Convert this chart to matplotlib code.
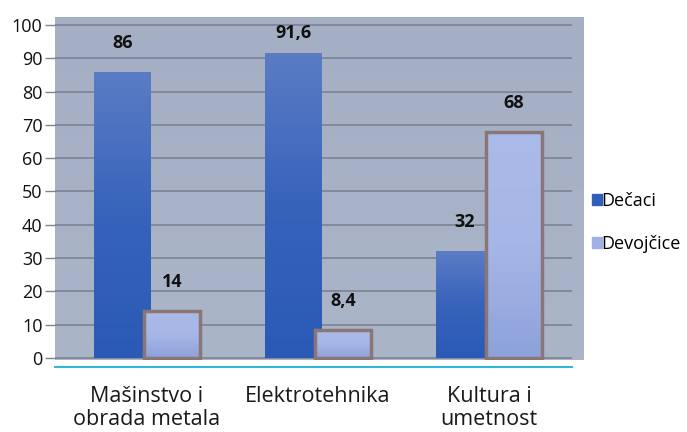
import matplotlib.pyplot as plt
import numpy as np
from matplotlib.colors import LinearSegmentedColormap
from matplotlib.patches import Rectangle
from matplotlib.lines import Line2D

categories = ['Mašinstvo i\nobrada metala', 'Elektrotehnika', 'Kultura i\numetnost']
series_names = ['Dečaci', 'Devojčice']
decaci = [86, 91.6, 32]
devojcice = [14, 8.4, 68]
value_labels = [['86', '91,6', '32'], ['14', '8,4', '68']]
yticks = [0, 10, 20, 30, 40, 50, 60, 70, 80, 90, 100]

plt.rcParams['font.family'] = ['Open Sans', 'DejaVu Sans']

fig = plt.figure(figsize=(6.87, 4.32), dpi=100)
ax = fig.add_axes([0.0801, 0.1667, 0.7686, 0.794])
ax.set_xlim(-0.538, 2.55)
ax.set_ylim(-0.6, 102.4)

# panel background gradient
bg = LinearSegmentedColormap.from_list('bg', ['#aab5c8', '#a4afc4'])
ax.imshow(np.linspace(0, 1, 100).reshape(-1, 1), cmap=bg, aspect='auto',
          extent=[-0.538, 2.55, -0.6, 102.4], origin='lower', zorder=0)

# gridlines
ax.hlines(yticks, -0.538, 2.485, color='#7b8394', lw=1.2, zorder=1)

dark = LinearSegmentedColormap.from_list('dark', ['#2a5ab6', '#3763bb', '#5b7cc4'])
light = LinearSegmentedColormap.from_list('light', ['#8ea2db', '#a6b6e6', '#abbae8'])

x = np.arange(len(categories))
w = 0.33
off = 0.145


def grad_bars(xs, vals, cmap, edge, zo):
    bars = ax.bar(xs, vals, w, color='none', edgecolor=edge, lw=2.5 if edge != 'none' else 0, zorder=zo + 1)
    for b in bars:
        x0, y0 = b.get_x(), b.get_y()
        im = ax.imshow(np.linspace(0, 1, 100).reshape(-1, 1), cmap=cmap, aspect='auto',
                       extent=[x0, x0 + b.get_width(), y0, y0 + b.get_height()],
                       origin='lower', zorder=zo)
        clip = Rectangle((x0, y0), b.get_width(), b.get_height(), transform=ax.transData)
        im.set_clip_path(clip)
    return bars


grad_bars(x - off, decaci, dark, 'none', 2)
grad_bars(x + off, devojcice, light, '#8a7676', 4)

# labels sit above the bars, pushed down when they would hit the top
for i in range(len(categories)):
    ax.text(x[i] - off, min(decaci[i] + 6, 95), value_labels[0][i], ha='center', va='bottom',
            fontsize=13, fontweight='bold', color='#111111', zorder=6)
    ax.text(x[i] + off, min(devojcice[i] + 6, 95), value_labels[1][i], ha='center', va='bottom',
            fontsize=13, fontweight='bold', color='#111111', zorder=6)

ax.set_xticks([])
ax.set_yticks(yticks)
ax.set_yticklabels([str(t) for t in yticks], fontsize=13, color='#111111')
ax.tick_params(axis='y', length=7, width=1, color='#7b8394', pad=2)
for s in ax.spines.values():
    s.set_visible(False)

# category labels
for i, c in enumerate(categories):
    ax.text(x[i], -8.5, c, ha='center', va='top', fontsize=15.5, color='#1a1a1a',
            linespacing=1.1, clip_on=False)

# cyan axis line below panel
fig.add_artist(Line2D([55 / 687, 572 / 687], [1 - 367 / 432, 1 - 367 / 432],
                      color='#33b7d6', lw=1.5))

# legend
handles = [Rectangle((0, 0), 1, 1, color='#2f5fb9'), Rectangle((0, 0), 1, 1, color='#9fb1e3')]
fig.legend(handles, series_names, loc='center left', bbox_to_anchor=(0.848, 0.485),
           frameon=False, fontsize=13, handlelength=0.55, handleheight=0.55,
           handletextpad=0.0, labelspacing=1.35, borderpad=0)

fig.savefig('out.png', dpi=100)
